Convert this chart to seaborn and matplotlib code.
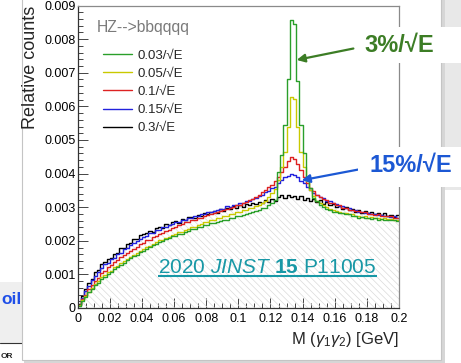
import numpy as np
import pandas as pd
import seaborn as sns
import matplotlib.pyplot as plt
from matplotlib.lines import Line2D
from matplotlib.patches import Rectangle
from matplotlib.ticker import MultipleLocator, AutoMinorLocator, FuncFormatter

# Binning of the M(gamma1 gamma2) histograms: 100 bins of 2 MeV
bin_edges = np.linspace(0.0, 0.2, 101)
bin_centers = 0.5 * (bin_edges[:-1] + bin_edges[1:])

# Relative counts per bin, in units of 1e-3
green_counts = [
    0.07, 0.21, 0.33, 0.47, 0.57, 0.69, 0.75, 0.87, 0.93, 1.01,
    1.07, 1.15, 1.21, 1.29, 1.35, 1.43, 1.49, 1.55, 1.59, 1.67,
    1.71, 1.77, 1.81, 1.87, 1.91, 1.97, 1.99, 2.05, 2.07, 2.13,
    2.15, 2.21, 2.21, 2.27, 2.29, 2.35, 2.35, 2.41, 2.41, 2.47,
    2.47, 2.53, 2.53, 2.57, 2.59, 2.63, 2.63, 2.67, 2.69, 2.73,
    2.73, 2.77, 2.79, 2.83, 2.85, 2.89, 2.91, 2.97, 2.99, 3.07,
    3.11, 3.20, 4.04, 4.54, 5.43, 6.80, 8.57, 8.45, 6.75, 5.45,
    4.60, 3.90, 3.58, 3.26, 3.17, 3.06, 3.01, 2.95, 2.93, 2.87,
    2.87, 2.83, 2.83, 2.79, 2.79, 2.73, 2.73, 2.69, 2.71, 2.67,
    2.69, 2.65, 2.67, 2.63, 2.65, 2.61, 2.63, 2.61, 2.61, 2.59]
yellow_counts = [
    0.08, 0.23, 0.35, 0.49, 0.59, 0.71, 0.79, 0.91, 0.97, 1.07,
    1.11, 1.21, 1.25, 1.35, 1.39, 1.47, 1.53, 1.59, 1.63, 1.71,
    1.75, 1.81, 1.85, 1.91, 1.95, 2.01, 2.03, 2.09, 2.11, 2.17,
    2.19, 2.25, 2.27, 2.33, 2.35, 2.41, 2.41, 2.47, 2.49, 2.55,
    2.55, 2.61, 2.63, 2.67, 2.69, 2.73, 2.75, 2.79, 2.81, 2.85,
    2.85, 2.91, 2.91, 2.97, 2.97, 3.03, 3.05, 3.13, 3.19, 3.31,
    3.41, 3.55, 3.80, 4.20, 4.64, 5.40, 6.27, 6.22, 5.40, 4.64,
    4.20, 3.78, 3.50, 3.33, 3.19, 3.13, 3.05, 3.01, 2.95, 2.93,
    2.89, 2.87, 2.83, 2.83, 2.79, 2.79, 2.75, 2.75, 2.71, 2.73,
    2.69, 2.71, 2.67, 2.69, 2.65, 2.67, 2.65, 2.65, 2.63, 2.62]
red_counts = [
    0.08, 0.26, 0.39, 0.56, 0.67, 0.81, 0.89, 1.03, 1.09, 1.21,
    1.27, 1.37, 1.43, 1.51, 1.57, 1.65, 1.69, 1.77, 1.81, 1.89,
    1.93, 2.01, 2.03, 2.11, 2.13, 2.21, 2.23, 2.29, 2.33, 2.39,
    2.41, 2.47, 2.49, 2.55, 2.55, 2.61, 2.63, 2.69, 2.69, 2.75,
    2.77, 2.81, 2.83, 2.87, 2.89, 2.93, 2.95, 2.99, 3.01, 3.05,
    3.07, 3.13, 3.15, 3.21, 3.25, 3.31, 3.37, 3.45, 3.51, 3.61,
    3.65, 3.77, 3.89, 4.06, 4.19, 4.36, 4.49, 4.43, 4.27, 4.11,
    3.89, 3.73, 3.57, 3.47, 3.37, 3.31, 3.23, 3.21, 3.13, 3.11,
    3.05, 3.05, 2.99, 2.99, 2.93, 2.93, 2.89, 2.89, 2.85, 2.85,
    2.81, 2.81, 2.77, 2.79, 2.75, 2.75, 2.73, 2.73, 2.69, 2.69]
blue_counts = [
    0.10, 0.30, 0.52, 0.64, 0.84, 0.95, 1.08, 1.18, 1.32, 1.35,
    1.46, 1.50, 1.62, 1.65, 1.76, 1.79, 1.88, 1.92, 2.00, 2.04,
    2.12, 2.14, 2.22, 2.24, 2.32, 2.33, 2.40, 2.42, 2.48, 2.49,
    2.56, 2.55, 2.62, 2.61, 2.68, 2.69, 2.74, 2.73, 2.80, 2.79,
    2.86, 2.85, 2.90, 2.91, 2.96, 2.95, 3.02, 3.00, 3.06, 3.07,
    3.12, 3.11, 3.18, 3.19, 3.24, 3.27, 3.32, 3.35, 3.44, 3.47,
    3.56, 3.61, 3.73, 3.80, 3.91, 3.94, 3.99, 3.95, 3.89, 3.79,
    3.71, 3.59, 3.51, 3.41, 3.37, 3.29, 3.26, 3.19, 3.17, 3.11,
    3.09, 3.03, 3.03, 2.97, 2.97, 2.91, 2.91, 2.87, 2.87, 2.83,
    2.83, 2.79, 2.81, 2.77, 2.77, 2.75, 2.75, 2.71, 2.73, 2.69]
black_counts = [
    0.12, 0.36, 0.56, 0.74, 0.86, 1.06, 1.12, 1.30, 1.36, 1.46,
    1.50, 1.62, 1.64, 1.78, 1.80, 1.90, 1.94, 2.04, 2.06, 2.16,
    2.20, 2.22, 2.30, 2.27, 2.38, 2.42, 2.39, 2.50, 2.46, 2.55,
    2.58, 2.54, 2.65, 2.62, 2.70, 2.72, 2.67, 2.78, 2.74, 2.84,
    2.79, 2.86, 2.90, 2.84, 2.94, 2.90, 2.98, 2.94, 3.02, 2.97,
    3.05, 3.01, 3.10, 3.05, 3.12, 3.09, 3.16, 3.12, 3.20, 3.15,
    3.25, 3.19, 3.30, 3.35, 3.27, 3.36, 3.30, 3.34, 3.25, 3.32,
    3.22, 3.28, 3.19, 3.24, 3.15, 3.20, 3.10, 3.14, 3.05, 3.10,
    3.00, 3.04, 2.95, 3.00, 2.92, 2.96, 2.87, 2.92, 2.84, 2.90,
    2.82, 2.86, 2.79, 2.84, 2.76, 2.82, 2.74, 2.78, 2.71, 2.76]

resolutions = ["0.03", "0.05", "0.1", "0.15", "0.3"]
all_counts = [green_counts, yellow_counts, red_counts, blue_counts, black_counts]
line_colors = ["#2a9f2a", "#c9c900", "#dd2222", "#2222dd", "#000000"]
legend_labels = ["0.03/√E", "0.05/√E", "0.1/√E", "0.15/√E", "0.3/√E"]

y_ticks = [0.0, 0.001, 0.002, 0.003, 0.004, 0.005, 0.006, 0.007, 0.008, 0.009]

GREEN_TXT = "#3c7d25"
BLUE_TXT = "#1c58d4"
TEAL = "#1898a6"

df = pd.concat([
    pd.DataFrame({"mass": bin_centers, "counts": np.array(c) * 1e-3, "resolution": r})
    for r, c in zip(resolutions, all_counts)
], ignore_index=True)

sns.set_theme(style="ticks")
plt.rcParams["font.family"] = ["Liberation Sans", "DejaVu Sans"]
plt.rcParams["mathtext.fontset"] = "custom"
plt.rcParams["mathtext.rm"] = "Liberation Sans"
plt.rcParams["mathtext.it"] = "Liberation Sans:italic"
plt.rcParams["mathtext.bf"] = "Liberation Sans:bold"
plt.rcParams["hatch.linewidth"] = 0.5

W, H = 461, 363
fig = plt.figure(figsize=(W / 100, H / 100), dpi=100)
fig.patch.set_facecolor("white")

def px_rect(x0, y0, x1, y1, **kw):
    # rectangle given in pixel coords of the screenshot (y downwards)
    return Rectangle((x0 / W, 1 - y1 / H), (x1 - x0) / W, (y1 - y0) / H,
                     transform=fig.transFigure, **kw)

# slide remains behind the plot card
fig.add_artist(px_rect(0, 282, 22, 343, facecolor="#efefef", edgecolor="none", zorder=-3))
fig.text(1 / W, 1 - 300 / H, "oil", ha="left", va="center", color="#1f4fe8",
         fontsize=12.5, fontweight="bold", zorder=-2)
fig.add_artist(Line2D([0, 22 / W], [1 - 343 / H] * 2, color="#333333", lw=0.8, zorder=-2))
fig.text(1 / W, 1 - 356 / H, "OR", ha="left", va="center", fontsize=6, fontweight="bold",
         color="#222222", zorder=-2)
fig.add_artist(px_rect(442, 0, 461, 190, facecolor="#e8e8e8", edgecolor="none", zorder=-3))
fig.add_artist(px_rect(24, -5, 445, 363, facecolor="#d6d6d6", edgecolor="none", zorder=-2))
fig.add_artist(px_rect(22, -5, 441, 360, facecolor="white", edgecolor="#c4c4c4", lw=0.8, zorder=-1))

ax = fig.add_axes([77.7 / W, 1 - 308 / H, 321.3 / W, 302.5 / H])
ax.set_facecolor("white")

# hatched area under the widest distribution
ax.stairs(np.array(black_counts) * 1e-3, bin_edges, fill=True, hatch="\\\\\\\\\\",
          facecolor="none", edgecolor="#dadada", linewidth=0)

sns.histplot(data=df, x="mass", weights="counts", hue="resolution", hue_order=resolutions,
             palette=dict(zip(resolutions, line_colors)), bins=list(bin_edges),
             element="step", fill=False, linewidth=1.0, legend=False, ax=ax)

ax.set_xlim(0, 0.2)
ax.set_ylim(0, 0.009)
ax.xaxis.set_major_locator(MultipleLocator(0.02))
ax.xaxis.set_minor_locator(AutoMinorLocator(4))
ax.set_yticks(y_ticks)
ax.yaxis.set_minor_locator(AutoMinorLocator(5))
ax.xaxis.set_major_formatter(FuncFormatter(lambda v, _: "0" if abs(v) < 1e-9 else f"{v:g}"))
ax.yaxis.set_major_formatter(FuncFormatter(lambda v, _: "0" if abs(v) < 1e-9 else f"{v:.3f}"))
ax.tick_params(which="both", direction="in", top=False, right=False, color="#444444",
               width=0.7, labelsize=9, labelcolor="black")
ax.tick_params(which="major", length=7)
ax.tick_params(which="minor", length=3.5)
ax.tick_params(axis="y", pad=1.5)
ax.tick_params(axis="x", pad=3.5)
for side in ["left", "bottom"]:
    ax.spines[side].set_color("#333333")
    ax.spines[side].set_linewidth(0.9)
for side in ["top", "right"]:
    ax.spines[side].set_color("#8a8a8a")
    ax.spines[side].set_linewidth(0.9)

ax.set_ylabel("Relative counts", fontsize=13, loc="top")
ax.yaxis.set_label_coords(-0.1195, 1.0)
ax.set_xlabel(r"M ($\gamma_1\gamma_2$) [GeV]", fontsize=12, loc="right")
ax.xaxis.set_label_coords(1.0, -0.072)

# legend
ax.text(0.059, 0.9124, "HZ-->bbqqqq", transform=ax.transAxes, color="#7a7a7a",
        fontsize=11.3, va="baseline", ha="left")
handles = [Line2D([], [], color=c, lw=1.0) for c in line_colors]
ax.legend(handles, legend_labels, loc="upper left", bbox_to_anchor=(0.08, 0.855),
          frameon=False, fontsize=9.5, handlelength=2.15, handletextpad=0.45,
          labelspacing=0.45, borderpad=0, borderaxespad=0)

# reference
ref = ax.text(0.251, 0.1147, r"2020 $\mathit{JINST}$ $\mathbf{15}$ P11005",
              transform=ax.transAxes, fontsize=15, color=TEAL, va="baseline", ha="left")

# arrows to the peaks
ax.annotate("", xy=(0.1363, 0.00738), xytext=(0.1716, 0.00772),
            arrowprops=dict(arrowstyle="-|>", color=GREEN_TXT, lw=1.6,
                            mutation_scale=12, shrinkA=0, shrinkB=0))
ax.annotate("", xy=(0.1394, 0.00380), xytext=(0.1747, 0.00412),
            arrowprops=dict(arrowstyle="-|>", color=BLUE_TXT, lw=1.6,
                            mutation_scale=12, shrinkA=0, shrinkB=0))

fig.add_artist(px_rect(358, 27, 461, 63, facecolor="white", edgecolor="none", zorder=1))
fig.add_artist(px_rect(358, 147, 461, 187, facecolor="white", edgecolor="none", zorder=1))
fig.text(399 / W, 1 - 46 / H, "3%/√E", ha="center", va="center", fontsize=17,
         fontweight="bold", color=GREEN_TXT, zorder=2)
fig.text(411 / W, 1 - 166 / H, "15%/√E", ha="center", va="center", fontsize=17,
         fontweight="bold", color=BLUE_TXT, zorder=2)

# underline of the reference text
fig.canvas.draw()
bb = ref.get_window_extent().transformed(ax.transAxes.inverted())
ax.plot([bb.x0, bb.x1], [0.1058, 0.1058], transform=ax.transAxes, color=TEAL, lw=1.5,
        solid_capstyle="butt")

fig.savefig("out.png", dpi=100)
